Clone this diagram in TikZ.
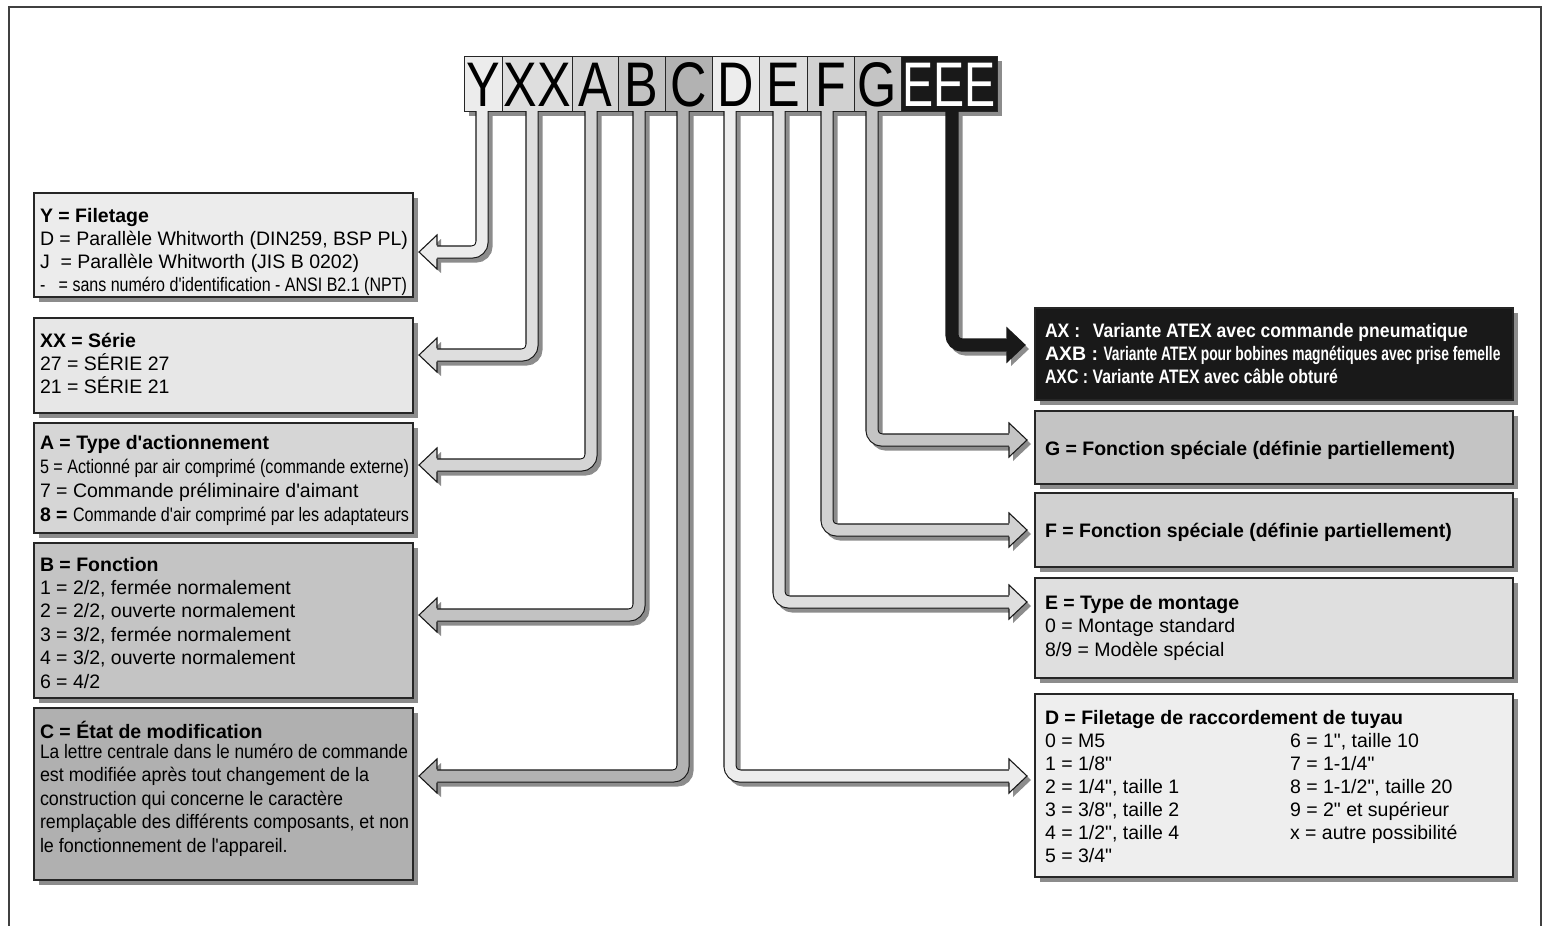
\documentclass[tikz,border=0pt]{standalone}
\usepackage{fontspec}
\setmainfont{Liberation Sans}[Ligatures=TeXOff]
\usetikzlibrary{calc}
\definecolor{shc}{gray}{0.55}
\definecolor{cY}{gray}{0.925}
\definecolor{cXX}{gray}{0.87}
\definecolor{cA}{gray}{0.83}
\definecolor{cB}{gray}{0.76}
\definecolor{cC}{gray}{0.70}
\definecolor{cD}{gray}{0.93}
\definecolor{cE}{gray}{0.87}
\definecolor{cF}{gray}{0.82}
\definecolor{cG}{gray}{0.77}
\definecolor{cK}{gray}{0.10}
\definecolor{kY}{gray}{0.925}
\definecolor{kXX}{gray}{0.905}
\definecolor{kA}{gray}{0.84}
\definecolor{kB}{gray}{0.77}
\definecolor{kC}{gray}{0.69}
\definecolor{kG}{gray}{0.77}
\definecolor{kF}{gray}{0.82}
\definecolor{kE}{gray}{0.875}
\definecolor{kD}{gray}{0.935}
\newcommand\fitto[2]{\resizebox{#1}{\height}{#2}}
\newcommand\tblock[2]{\parbox[t]{#1}{\raggedright\hyphenpenalty=10000 #2}}
\newcommand\arrowL[3]{%
  \draw[pipesh] ($(#1)+(4,4)$) |- ($(#2)+(16,4)$);
  \fill[shc] ($(#2)+(4,4)$) -- ++(18,-17) -- ++(0,34) -- cycle;
  \draw[pipe, double=#3] (#1) |- ($(#2)+(12,0)$);
  \fill[#3] (#2) -- ++(18,-17) -- ++(0,34) -- cycle;
  \draw[headline] ($(#2)+(18,-6.6)$) -- ++(0,-10.4) -- (#2) -- ++(18,17) -- ++(0,-10.4);
}
\newcommand\arrowR[3]{%
  \draw[pipesh] ($(#1)+(4,4)$) |- ($(#2)+(-16,4)$);
  \fill[shc] ($(#2)+(4,4)$) -- ++(-18,-17) -- ++(0,34) -- cycle;
  \draw[pipe, double=#3] (#1) |- ($(#2)+(-12,0)$);
  \fill[#3] (#2) -- ++(-18,-17) -- ++(0,34) -- cycle;
  \draw[headline] ($(#2)+(-18,-6.6)$) -- ++(0,-10.4) -- (#2) -- ++(-18,17) -- ++(0,-10.4);
}
\begin{document}
\begin{tikzpicture}[x=1pt,y=-1pt,
  frame/.style={draw=black!75, line width=1.6pt},
  ibox/.style={draw=black!85, line width=1.2pt, anchor=north west, inner sep=0pt, outer sep=0pt},
  lbox/.style={draw=black!85, line width=1pt, anchor=north west, inner sep=0pt, outer sep=0pt,
    minimum height=55pt, text height=45pt, text depth=0pt, font=\fontsize{63}{63}\selectfont},
  txt/.style={anchor=base west, inner sep=0pt, outer sep=0pt, font=\fontsize{19.5}{23}\selectfont},
  pipe/.style={line width=1.1pt, double distance=11pt, draw=black!90, rounded corners=10pt},
  pipesh/.style={line width=13.2pt, draw=shc, rounded corners=10pt},
  headline/.style={draw=black!90, line width=1.1pt, line join=miter}
]
\useasboundingbox (0,0) rectangle (1542,926);
\fill[white] (0,0) rectangle (1542,926);
\draw[frame] (9,926) -- (9,7) -- (1541,7) -- (1541,926);

% ---------- left info boxes ----------
\fill[shc] (39,198) rectangle (418,302);
\node[ibox, fill=kY, minimum width=379pt, minimum height=104pt] (bY) at (34,193) {};
\fill[shc] (39,323) rectangle (418,418);
\node[ibox, fill=kXX, minimum width=379pt, minimum height=95pt] (bXX) at (34,318) {};
\fill[shc] (39,428) rectangle (418,538);
\node[ibox, fill=kA, minimum width=379pt, minimum height=110pt] (bA) at (34,423) {};
\fill[shc] (39,548) rectangle (418,703);
\node[ibox, fill=kB, minimum width=379pt, minimum height=155pt] (bB) at (34,543) {};
\fill[shc] (39,713) rectangle (418,885);
\node[ibox, fill=kC, minimum width=379pt, minimum height=172pt] (bC) at (34,708) {};

\node[txt] (tY) at (40,222) {\tblock{420pt}{\fontsize{19.5}{23}\selectfont
  \textbf{Y = Filetage}\\
  D = Parallèle Whitworth (DIN259, BSP PL)\\
  J\ \ = Parallèle Whitworth (JIS B 0202)\\
  \fitto{367pt}{-\ \ \ = sans numéro d'identification - ANSI B2.1 (NPT)}}};
\node[txt] (tXX) at (40,347) {\tblock{420pt}{\fontsize{19.5}{23}\selectfont
  \textbf{XX = Série}\\
  27 = SÉRIE 27\\
  21 = SÉRIE 21}};
\node[txt] (tA) at (40,449) {\tblock{420pt}{\fontsize{19.5}{24}\selectfont
  \textbf{A = Type d'actionnement}\\
  \fitto{369pt}{5 = Actionné par air comprimé (commande externe)}\\
  7 = Commande préliminaire d'aimant\\
  \textbf{8 =} \fitto{336pt}{Commande d'air comprimé par les adaptateurs}}};
\node[txt] (tB) at (40,571) {\tblock{420pt}{\fontsize{19.5}{23.4}\selectfont
  \textbf{B = Fonction}\\
  1 = 2/2, fermée normalement\\
  2 = 2/2, ouverte normalement\\
  3 = 3/2, fermée normalement\\
  4 = 3/2, ouverte normalement\\
  6 = 4/2}};
\node[txt] (tC) at (40,738) {\tblock{460pt}{\fontsize{19.5}{23.4}\selectfont
  \textbf{C = État de modification}\\[-3pt]
  \fitto{368pt}{La lettre centrale dans le numéro de commande}\\
  \scalebox{0.92}[1]{est modifiée après tout changement de la}\\
  \scalebox{0.92}[1]{construction qui concerne le caractère}\\
  \fitto{369pt}{remplaçable des différents composants, et non}\\
  \scalebox{0.92}[1]{le fonctionnement de l'appareil.}}};

% ---------- right info boxes ----------
\fill[shc] (1040,313) rectangle (1518,405);
\node[ibox, fill=cK, minimum width=478pt, minimum height=92pt] (bAX) at (1035,308) {};
\fill[shc] (1040,416) rectangle (1518,489);
\node[ibox, fill=kG, minimum width=478pt, minimum height=73pt] (bG) at (1035,411) {};
\fill[shc] (1040,498) rectangle (1518,572);
\node[ibox, fill=kF, minimum width=478pt, minimum height=74pt] (bF) at (1035,493) {};
\fill[shc] (1040,583) rectangle (1518,683);
\node[ibox, fill=kE, minimum width=478pt, minimum height=100pt] (bE) at (1035,578) {};
\fill[shc] (1040,699) rectangle (1518,882);
\node[ibox, fill=kD, minimum width=478pt, minimum height=183pt] (bD) at (1035,694) {};

\node[txt, text=white] (tAX) at (1045,337) {\tblock{470pt}{\fontsize{19.5}{23}\selectfont
  \fitto{423pt}{\textbf{AX :\hspace{14pt}Variante ATEX avec commande pneumatique}}\\
  \textbf{AXB :} \fitto{397pt}{\textbf{Variante ATEX pour bobines magnétiques avec prise femelle}}\\
  \fitto{293pt}{\textbf{AXC : Variante ATEX avec câble obturé}}}};
\node[txt] (tG) at (1045,455) {\textbf{G = Fonction spéciale (définie partiellement)}};
\node[txt] (tF) at (1045,537) {\textbf{F = Fonction spéciale (définie partiellement)}};
\node[txt] (tE) at (1045,609) {\tblock{460pt}{\fontsize{19.5}{23.5}\selectfont
  \textbf{E = Type de montage}\\
  0 = Montage standard\\
  8/9 = Modèle spécial}};
\node[txt] (tD) at (1045,724) {\tblock{460pt}{\fontsize{19.5}{23}\selectfont
  \textbf{D = Filetage de raccordement de tuyau}\\
  0 = M5\\
  1 = 1/8"\\
  2 = 1/4", taille 1\\
  3 = 3/8", taille 2\\
  4 = 1/2", taille 4\\
  5 = 3/4"}};
\node[txt] (tD2) at (1290,747) {\tblock{220pt}{\fontsize{19.5}{23}\selectfont
  6 = 1", taille 10\\
  7 = 1-1/4"\\
  8 = 1-1/2", taille 20\\
  9 = 2" et supérieur\\
  x = autre possibilité}};

% ---------- code strip ----------
\fill[shc] (469,61) rectangle (1002,116);
\node[lbox, fill=cY,  minimum width=38pt] (lY)  at (464,56) {\scalebox{0.8}[1]{Y}};
\node[lbox, fill=cXX, minimum width=70pt] (lXX) at (502,56) {\scalebox{0.8}[1]{XX}};
\node[lbox, fill=cA,  minimum width=46pt] (lA)  at (572,56) {\scalebox{0.8}[1]{A}};
\node[lbox, fill=cB,  minimum width=47pt] (lB)  at (618,56) {\scalebox{0.8}[1]{B}};
\node[lbox, fill=cC,  minimum width=47pt] (lC)  at (665,56) {\scalebox{0.8}[1]{C}};
\node[lbox, fill=cD,  minimum width=47pt] (lD)  at (712,56) {\scalebox{0.8}[1]{D}};
\node[lbox, fill=cE,  minimum width=48pt] (lE)  at (759,56) {\scalebox{0.8}[1]{E}};
\node[lbox, fill=cF,  minimum width=47pt] (lF)  at (807,56) {\scalebox{0.8}[1]{F}};
\node[lbox, fill=cG,  minimum width=47pt] (lG)  at (854,56) {\scalebox{0.8}[1]{G}};
\node[lbox, fill=cK,  minimum width=96pt, text=white] (lK) at (901,56) {\scalebox{0.74}[1]{EEE}};

% ---------- arrow tips ----------
\coordinate (aY)  at (419,252);
\coordinate (aXX) at (419,355);
\coordinate (aA)  at (419,465);
\coordinate (aB)  at (419,615);
\coordinate (aC)  at (419,776);
\coordinate (aK)  at (1025,345);
\coordinate (aG)  at (1027,440);
\coordinate (aF)  at (1027,530);
\coordinate (aE)  at (1027,602);
\coordinate (aD)  at (1027,776);

% ---------- connectors ----------
\arrowL{[xshift=-1pt]lY.south}{aY}{cY}
\arrowL{[xshift=-5pt]lXX.south}{aXX}{cXX}
\arrowL{[xshift=-4pt]lA.south}{aA}{cA}
\arrowL{[xshift=-2.5pt]lB.south}{aB}{cB}
\arrowL{[xshift=-5.5pt]lC.south}{aC}{cC}
\arrowR{[xshift=-5.5pt]lD.south}{aD}{cD}
\arrowR{[xshift=-4pt]lE.south}{aE}{cE}
\arrowR{[xshift=-3.5pt]lF.south}{aF}{cF}
\arrowR{[xshift=-5.5pt]lG.south}{aG}{cG}
\arrowR{[xshift=3pt]lK.south}{aK}{cK}
\end{tikzpicture}
\end{document}
